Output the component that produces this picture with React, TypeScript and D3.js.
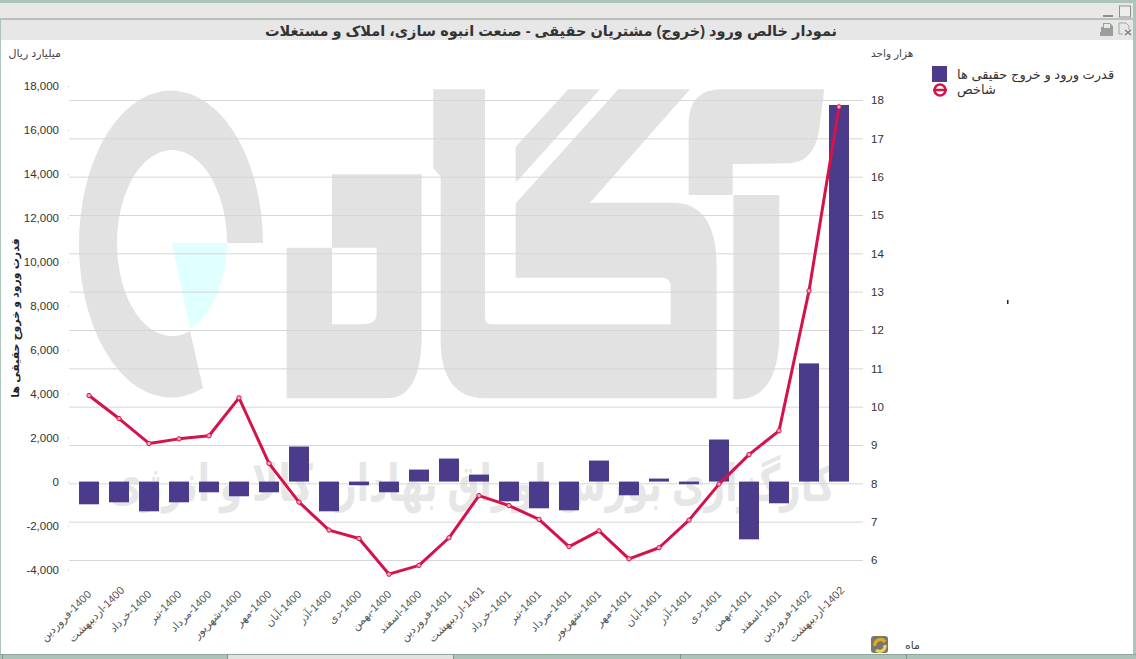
import React, { useEffect, useRef } from 'react';
import * as d3 from 'd3';

const months = ['فروردین', 'اردیبهشت', 'خرداد', 'تیر', 'مرداد', 'شهریور', 'مهر', 'آبان', 'آذر', 'دی', 'بهمن', 'اسفند'];
const categories = [
    ...months.map(m => `1400-${m}`),
    ...months.map(m => `1401-${m}`),
    `1402-${months[0]}`,
    `1402-${months[1]}`,
];
const netFlow = [
    -1033, -942, -1352, -942, -486, -668, -486, 1595, -1352, -167, -486, 547, 1048,
    319, -896, -1215, -1306, 957, -623, 137, -121, 1914, -2628, -987, 5378, 17137,
];
const indexValues = [
    10.29, 9.69, 9.04, 9.16, 9.24, 10.23, 8.52, 7.51, 6.78, 6.56, 5.63, 5.86, 6.58,
    7.68, 7.42, 7.06, 6.35, 6.76, 6.03, 6.32, 7.04, 7.98, 8.75, 9.37, 13.02, 17.82,
];
const leftTicks = [-4000, -2000, 0, 2000, 4000, 6000, 8000, 10000, 12000, 14000, 16000, 18000];
const rightTicks = [6, 7, 8, 9, 10, 11, 12, 13, 14, 15, 16, 17, 18];

const title = 'نمودار خالص ورود (خروج) مشتریان حقیقی - صنعت انبوه سازی، املاک و مستغلات';
const seriesBars = 'قدرت ورود و خروج حقیقی ها';
const seriesLine = 'شاخص';
const watermarkText = 'کارگزاری بورس اوراق بهادار، کالا و انرژی';

const FONT = '"Liberation Sans", "DejaVu Sans", sans-serif';
const BAR = '#4b3b8a';
const LINE = '#d5134b';
const MARK = '#e2e2e2';

const App: React.FC = () => {
    const chartRef = useRef<SVGGElement>(null);

    useEffect(() => {
        if (!chartRef.current) return;
        const g = d3.select(chartRef.current);
        g.selectAll('*').remove();

        const x = d3.scaleBand<string>()
            .domain(categories)
            .range([74, 854])
            .paddingInner(1 / 3)
            .paddingOuter(1 / 6);
        const yLeft = d3.scaleLinear().domain([-4000, 18000]).range([569.5, 86]);
        const yRight = d3.scaleLinear().domain([6, 18]).range([560, 100]);
        const cx = (c: string) => (x(c) as number) + x.bandwidth() / 2;

        // gridlines come from the right axis
        const right = g.append('g')
            .attr('transform', 'translate(863,0)')
            .call(d3.axisRight(yRight).tickValues(rightTicks).tickFormat(d3.format('d') as any).tickSize(-794).tickPadding(8));
        right.select('.domain').remove();
        right.selectAll('line').attr('stroke', '#d6d6d6').attr('stroke-width', 1);
        right.selectAll('text').attr('fill', '#333').attr('font-size', 11.5).attr('font-family', FONT);

        const left = g.append('g')
            .attr('transform', 'translate(69,0)')
            .call(d3.axisLeft(yLeft).tickValues(leftTicks)
                .tickFormat(d => d3.format(',')(d as number).replace('−', '-'))
                .tickSize(1).tickPadding(9));
        left.select('.domain').remove();
        left.selectAll('line').attr('stroke', '#bbb');
        left.selectAll('text').attr('fill', '#333').attr('font-size', 11.5).attr('font-family', FONT);

        g.append('g')
            .selectAll('rect')
            .data(netFlow)
            .join('rect')
            .attr('x', (_, i) => x(categories[i]) as number)
            .attr('y', d => yLeft(Math.max(d, 0)))
            .attr('width', x.bandwidth())
            .attr('height', d => Math.abs(yLeft(d) - yLeft(0)))
            .attr('fill', BAR);

        const line = d3.line<number>()
            .x((_, i) => cx(categories[i]))
            .y(d => yRight(d));
        g.append('path')
            .attr('d', line(indexValues))
            .attr('fill', 'none')
            .attr('stroke', LINE)
            .attr('stroke-width', 3)
            .attr('stroke-linejoin', 'round');
        g.append('g')
            .selectAll('circle')
            .data(indexValues)
            .join('circle')
            .attr('cx', (_, i) => cx(categories[i]))
            .attr('cy', d => yRight(d))
            .attr('r', 2.2)
            .attr('fill', '#f3a9bd')
            .attr('stroke', LINE)
            .attr('stroke-width', 1);

        // rotated month labels, the two long ones sit a bit further right
        g.append('g')
            .selectAll('text')
            .data(categories)
            .join('text')
            .attr('transform', d => `translate(${cx(d) + 3 + (d.includes('اردیبهشت') ? 3 : 0)},${d.includes('اردیبهشت') ? 591 : 595}) rotate(-45)`)
            .attr('direction', 'rtl')
            .attr('text-anchor', 'start')
            .attr('font-family', FONT)
            .attr('font-size', 11)
            .attr('fill', '#555')
            .text(d => d);
    }, []);

    return (
        <svg width={1136} height={659} viewBox="0 0 1136 659"
            style={{ position: 'fixed', left: 0, top: 0, display: 'block', background: '#fff' }}>
            {/* window frame */}
            <rect x={0} y={0} width={1136} height={3} fill="#adc4bb" />
            <rect x={0} y={3} width={1136} height={15} fill="#e8e9e7" />
            <rect x={0} y={18} width={1136} height={2} fill="#bdbfbc" />
            <rect x={0} y={20} width={1133} height={20} fill="#e6e7e6" />
            <rect x={0} y={18} width={1} height={636} fill="#adc4bb" />
            <rect x={1133} y={3} width={3} height={656} fill="#adc4bb" />

            {/* logo behind the plot */}
            <g fill={MARK}>
                <path d="M263,243 A92,153.5 0 1 0 203,388 L190,331 A55,93 0 1 1 227,243 Z" />
                <path d="M172,243 L227,243 A55,93 0 0 1 190,329 Z" fill="#e0ffff" />
                <g transform="translate(70,80) scale(0.3333)">
                    <path fillRule="evenodd" d="M650,503 L786,503 L786,283 L1055,283 L1055,780 Q1050,955 950,955 L650,955 Z M786,503 L920,503 L920,700 Q920,733 880,733 L786,733 Z" />
                </g>
                <g transform="translate(420,80) scale(0.3333)">
                    <path d="M40,28 L195,28 L195,715 Q197,733 215,733 L752,733 L752,615 Q750,593 725,593 L287,593 L287,370 L595,28 L810,28 L510,368 L760,368 Q890,370 890,560 L890,955 L190,955 Q62,950 62,780 L62,290 L40,265 Z" />
                    <path d="M445,28 L540,28 L287,308 L287,200 Z" />
                    <path d="M1213,28 L900,28 Q808,30 806,130 L806,345 L938,345 L938,252 L1110,250 Q1190,245 1200,130 Z" />
                    <path d="M940,345 L1078,345 L1078,780 Q1070,950 960,958 L940,958 Z" />
                </g>
                <text transform="translate(472,501) scale(1.2,1.7)" direction="rtl" textAnchor="middle" fontFamily={FONT} fontWeight="bold"
                    fontSize={30} textLength={605} lengthAdjust="spacingAndGlyphs" fill="#e6e6e6">{watermarkText}</text>
            </g>

            <g ref={chartRef} />

            {/* title and captions */}
            <text x={551} y={36} textAnchor="middle" direction="rtl" fontFamily={FONT} fontWeight="bold" fontSize={14.5} fill="#333">{title}</text>
            <text x={61} y={57} textAnchor="end" direction="ltr" fontFamily={FONT} fontSize={11} fill="#444">میلیارد ریال</text>
            <text x={871} y={57} textAnchor="start" fontFamily={FONT} fontSize={10.5} fill="#444">هزار واحد</text>
            <text transform="translate(19,318) rotate(-90)" textAnchor="middle" direction="rtl" fontFamily={FONT} fontWeight="bold" fontSize={11} fill="#222">{seriesBars}</text>

            {/* legend */}
            <rect x={932} y={66} width={15} height={16} fill={BAR} />
            <line x1={933} x2={947} y1={90} y2={90} stroke={LINE} strokeWidth={2.5} />
            <circle cx={940} cy={90} r={5.5} fill="none" stroke={LINE} strokeWidth={2.5} />
            <text x={957} y={79} fontFamily={FONT} fontSize={13} fill="#333">{seriesBars}</text>
            <text x={957} y={94} fontFamily={FONT} fontSize={13} fill="#333">{seriesLine}</text>

            <rect x={1007} y={300} width={1.5} height={4} fill="#222" />

            {/* axis footer */}
            <text x={905} y={649} fontFamily={FONT} fontSize={11} fill="#444">ماه</text>
            <rect x={871} y={636} width={17} height={17} rx={3} fill="#77776c" />
            <path d="M875,646 A5.5,5.5 0 0 1 885,642" fill="none" stroke="#e0aa1c" strokeWidth={3.2} />
            <path d="M885,645 A5.5,5.5 0 0 1 876,650" fill="none" stroke="#f0d060" strokeWidth={3.2} />

            {/* window buttons */}
            <rect x={1103} y={15} width={10} height={2} fill="#8d918d" />
            <rect x={1119.5} y={6} width={11} height={11} fill="#eee" stroke="#8d918d" />
            <path d="M1101,32 L1101,27 L1103,27 L1103,23 L1110,23 L1113,26 L1113,36 L1100,36 L1100,32 Z" fill="#9a9f9a" />
            <rect x={1104} y={24} width={6} height={4} fill="#e6e7e6" />
            <path d="M1119,23 L1126,23 L1129,26 L1129,30 M1119,23 L1119,34 L1123,34" fill="none" stroke="#a5a9a5" />
            <path d="M1125,30 L1131,35 M1131,30 L1125,35" stroke="#777" strokeWidth={1.2} />

            {/* bottom tab strip */}
            <rect x={0} y={654} width={1136} height={5} fill="#aec2b8" />
            <rect x={228} y={655} width={225} height={4} fill="#e2e3df" />
            <rect x={0} y={654} width={1136} height={1} fill="#8fa69a" />
            {[2, 227, 453, 680, 906].map(v => (
                <rect key={v} x={v} y={654} width={1} height={5} fill="#7f9589" />
            ))}
        </svg>
    );
};

export default App;
